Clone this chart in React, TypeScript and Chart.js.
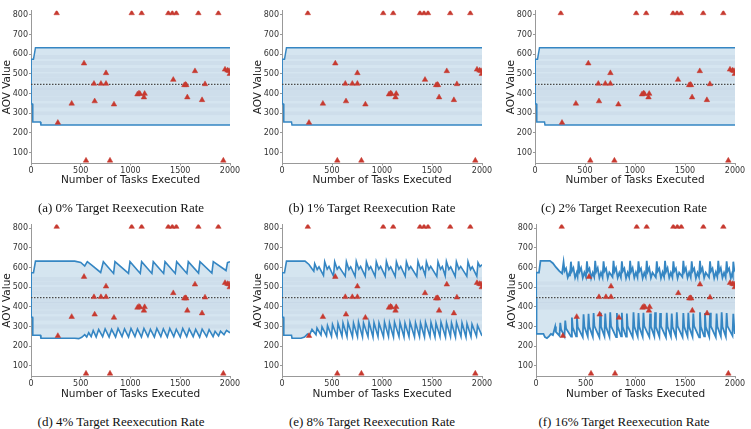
import React, { useEffect, useRef } from "react";
import { Chart, registerables } from "chart.js";
Chart.register(...registerables);

type Pt = [number, number];

const xTickValues = [0, 500, 1000, 1500, 2000];
const yTickValues = [100, 200, 300, 400, 500, 600, 700, 800];
const meanAov = 447;

const outlierTasks = [
  258, 1012, 1112, 1380, 1420, 1460, 1682, 1883,
  553, 794, 1933,
  270, 409, 533, 633, 640, 703, 754, 754, 834, 1070, 1085, 1095, 1135, 1142,
  1430, 1541, 1553, 1560, 1571, 1648, 1719, 1749, 1950, 1975, 1990, 1998,
];
const outlierValues = [
  808, 808, 808, 808, 808, 808, 808, 808,
  60, 60, 60,
  252, 349, 553, 450, 361, 450, 504, 450, 345, 396, 401, 398, 381, 399,
  470, 443, 445, 443, 381, 514, 367, 448, 522, 517, 515, 500,
];

const captions = [
  "(a) 0% Target Reexecution Rate",
  "(b) 1% Target Reexecution Rate",
  "(c) 2% Target Reexecution Rate",
  "(d) 4% Target Reexecution Rate",
  "(e) 8% Target Reexecution Rate",
  "(f) 16% Target Reexecution Rate",
];

const upperFlat: Pt[] = [[0, 450], [2, 574], [25, 574], [45, 633], [2000, 633]];
const lowerFlat: Pt[] = [[0, 450], [2, 347], [15, 347], [18, 255], [95, 255], [100, 240], [2000, 240]];

const upper4: Pt[] = [
  [0, 450], [2, 574], [25, 574], [45, 633], [440, 633], [500, 626], [540, 608], [566, 630], [610, 612],
  [700, 575], [727, 630], [830, 570], [844, 630], [980, 570], [995, 630], [1098, 570], [1112, 630],
  [1215, 570], [1229, 630], [1333, 570], [1347, 630], [1450, 570], [1464, 630], [1567, 570], [1581, 630],
  [1684, 572], [1698, 630], [1818, 572], [1832, 630], [1960, 585], [1975, 625], [2000, 630],
];
const lower4: Pt[] = [
  [0, 450], [2, 347], [15, 347], [18, 255], [95, 255], [100, 240], [440, 240], [480, 238], [510, 245],
  [540, 258], [560, 246], [580, 268], [605, 248], [625, 280], [655, 246], [680, 285], [720, 248],
  [745, 288], [785, 246], [810, 285], [850, 246], [875, 290], [915, 248], [940, 288], [980, 246],
  [1005, 290], [1045, 248], [1070, 288], [1110, 246], [1135, 290], [1175, 248], [1200, 286], [1240, 246],
  [1265, 290], [1305, 248], [1330, 288], [1370, 246], [1395, 290], [1435, 248], [1460, 286], [1500, 246],
  [1525, 290], [1565, 248], [1590, 288], [1630, 248], [1655, 285], [1695, 246], [1720, 286], [1765, 248],
  [1790, 284], [1830, 248], [1850, 275], [1885, 252], [1905, 276], [1940, 258], [1965, 280], [2000, 268],
];

const upper8: Pt[] = [
  [0, 450], [2, 574], [25, 574], [45, 633], [230, 633], [270, 616], [300, 594], [318, 582],
  [327, 620], [352, 590], [370, 604], [415, 560],
  [427, 630], [452, 592], [470, 606], [515, 556],
  [527, 630], [552, 592], [570, 605], [632, 556],
  [644, 630], [669, 590], [687, 604], [731, 555],
  [743, 632], [768, 592], [786, 606], [832, 556],
  [844, 630], [869, 591], [887, 605], [931, 555],
  [943, 630], [968, 592], [986, 606], [1032, 556],
  [1044, 632], [1069, 590], [1087, 604], [1132, 555],
  [1144, 630], [1169, 592], [1187, 606], [1232, 556],
  [1244, 630], [1269, 591], [1287, 605], [1348, 555],
  [1360, 632], [1385, 592], [1403, 604], [1432, 560],
  [1444, 630], [1469, 590], [1487, 606], [1548, 555],
  [1560, 630], [1585, 592], [1603, 605], [1632, 558],
  [1644, 632], [1669, 591], [1687, 604], [1732, 555],
  [1744, 630], [1769, 592], [1787, 606], [1848, 556],
  [1860, 630], [1885, 590], [1903, 604], [1948, 556],
  [1960, 625], [1980, 605], [2000, 615],
];
const lower8: Pt[] = [
  [0, 450], [2, 347], [15, 347], [18, 255], [95, 255], [100, 240], [190, 240], [225, 246], [255, 262], [275, 256],
  [300, 285], [340, 258], [350, 292], [390, 256], [400, 298], [445, 252], [455, 305], [495, 250], [505, 310],
  [550, 248], [560, 315], [600, 250], [610, 318], [650, 248], [660, 320], [705, 246], [715, 318], [755, 248],
  [765, 322], [805, 246], [815, 318], [860, 248], [870, 322], [910, 246], [920, 320], [960, 248], [970, 318],
  [1015, 246], [1025, 322], [1065, 248], [1075, 318], [1115, 246], [1125, 322], [1170, 248], [1180, 320],
  [1220, 246], [1230, 318], [1270, 248], [1280, 322], [1325, 246], [1335, 320], [1375, 248], [1385, 318],
  [1425, 246], [1435, 322], [1480, 248], [1490, 320], [1530, 246], [1540, 318], [1580, 248], [1590, 322],
  [1635, 246], [1645, 320], [1685, 248], [1695, 318], [1735, 246], [1745, 320], [1790, 248], [1800, 318],
  [1840, 246], [1850, 315], [1890, 248], [1900, 312], [1945, 250], [1955, 305], [1995, 258], [2000, 262],
];

const upper16: Pt[] = [
  [0, 450], [2, 574], [30, 574], [45, 634], [140, 634], [170, 622], [200, 602], [235, 582], [262, 570],
  [277, 628], [287, 582], [302, 596], [319, 550], [335, 572], [341, 556],
  [351, 630], [361, 582], [376, 598], [393, 548], [409, 574], [418, 554],
  [428, 632], [438, 580], [453, 598], [470, 548], [486, 575], [502, 552],
  [512, 632], [522, 582], [537, 596], [554, 546], [570, 574], [585, 552],
  [595, 634], [605, 580], [620, 598], [637, 548], [653, 575], [669, 550],
  [679, 632], [689, 582], [704, 596], [721, 546], [737, 576], [769, 552],
  [779, 634], [789, 580], [804, 598], [821, 548], [837, 574], [853, 550],
  [863, 632], [873, 582], [888, 596], [905, 546], [921, 575], [936, 552],
  [946, 634], [956, 580], [971, 598], [988, 548], [1004, 576], [1020, 550],
  [1030, 632], [1040, 582], [1055, 596], [1072, 546], [1088, 574], [1103, 552],
  [1113, 634], [1123, 580], [1138, 598], [1155, 548], [1171, 575], [1204, 550],
  [1214, 632], [1224, 582], [1239, 596], [1256, 546], [1272, 576], [1287, 552],
  [1297, 634], [1307, 580], [1322, 598], [1339, 548], [1355, 574], [1371, 550],
  [1381, 632], [1391, 582], [1406, 596], [1423, 546], [1439, 575], [1471, 552],
  [1481, 634], [1491, 580], [1506, 598], [1523, 548], [1539, 576], [1555, 550],
  [1565, 632], [1575, 582], [1590, 596], [1607, 546], [1623, 574], [1638, 552],
  [1648, 634], [1658, 580], [1673, 598], [1690, 548], [1706, 575], [1739, 550],
  [1749, 632], [1759, 582], [1774, 596], [1791, 546], [1807, 576], [1822, 552],
  [1832, 634], [1842, 580], [1857, 598], [1874, 548], [1890, 574], [1906, 550],
  [1916, 632], [1926, 582], [1941, 596], [1958, 546], [1970, 568], [1978, 556],
  [1983, 630], [1993, 585], [2000, 590],
];
const lower16: Pt[] = [
  [0, 450], [2, 352], [8, 262], [75, 262], [90, 246], [110, 240], [130, 250], [150, 262], [170, 256],
  [193, 300], [200, 272], [236, 252],
  [244, 318], [252, 285], [286, 250],
  [294, 330], [302, 290], [353, 248],
  [361, 345], [369, 295], [403, 250],
  [411, 352], [419, 298], [470, 246],
  [478, 362], [486, 300], [520, 250],
  [528, 365], [536, 298], [571, 248],
  [579, 368], [587, 302], [637, 245],
  [645, 370], [653, 300], [688, 250],
  [696, 366], [704, 298], [738, 248],
  [746, 372], [754, 302], [805, 246],
  [813, 368], [821, 300], [855, 250],
  [863, 370], [871, 298], [905, 248],
  [913, 366], [921, 302], [972, 245],
  [980, 372], [988, 300], [1022, 250],
  [1030, 368], [1038, 298], [1072, 248],
  [1080, 370], [1088, 302], [1139, 246],
  [1147, 366], [1155, 300], [1189, 250],
  [1197, 372], [1205, 298], [1240, 248],
  [1248, 368], [1256, 302], [1306, 245],
  [1314, 370], [1322, 300], [1356, 250],
  [1364, 366], [1372, 298], [1407, 248],
  [1415, 372], [1423, 302], [1473, 246],
  [1481, 368], [1489, 300], [1523, 250],
  [1531, 370], [1539, 298], [1573, 248],
  [1581, 366], [1589, 302], [1640, 245],
  [1648, 372], [1656, 300], [1690, 250],
  [1698, 368], [1706, 298], [1741, 248],
  [1749, 370], [1757, 302], [1807, 246],
  [1815, 366], [1823, 300], [1858, 250],
  [1866, 372], [1874, 298], [1908, 248],
  [1916, 368], [1924, 302], [1975, 252],
  [1983, 365], [1991, 300], [2000, 262],
];

const textureFull = [300, 340, 372, 395, 415, 430, 470, 492, 520, 555, 585];
const textureMid = [300, 340, 372, 395, 415, 430, 470, 492, 520, 542];
const textureInner = [395, 415, 430, 470, 492, 520];

const upperSets = [upperFlat, upperFlat, upperFlat, upper4, upper8, upper16];
const lowerSets = [lowerFlat, lowerFlat, lowerFlat, lower4, lower8, lower16];
const textureSets = [textureFull, textureFull, textureFull, textureMid, textureMid, textureInner];

const panelLayout = [
  { x0: 31, span: 199, top: 0, padTop: 10.8, xAxisH: 28.5, capX: 121, capY: 208, lw: 1.5 },
  { x0: 282, span: 200, top: 0, padTop: 10.8, xAxisH: 28.5, capX: 372, capY: 208, lw: 1.5 },
  { x0: 535, span: 200, top: 0, padTop: 10.8, xAxisH: 28.5, capX: 624, capY: 208, lw: 1.5 },
  { x0: 31, span: 199, top: 214, padTop: 10.4, xAxisH: 29.5, capX: 121, capY: 422, lw: 1.6 },
  { x0: 282, span: 200, top: 214, padTop: 10.4, xAxisH: 29.5, capX: 372, capY: 422, lw: 1.6 },
  { x0: 536, span: 199, top: 214, padTop: 10.4, xAxisH: 29.5, capX: 624, capY: 422, lw: 1.8 },
];

const SANS = "'DejaVu Sans', sans-serif";
const CANVAS_H = 192;
const Y_AXIS_W = 31;
const PAD_RIGHT = 16;

function Panel({ idx }: { idx: number }) {
  const ref = useRef<HTMLCanvasElement>(null);
  const L = panelLayout[idx];
  const W = Y_AXIS_W + L.span + PAD_RIGHT;

  useEffect(() => {
    const toXY = (pts: Pt[]) => pts.map(([x, y]) => ({ x, y }));
    const blue = "#3586c3";
    const datasets: any[] = [
      {
        label: "outliers",
        data: outlierTasks.map((t, i) => ({ x: t, y: outlierValues[i] })),
        showLine: false,
        pointStyle: "triangle",
        pointRadius: 3.2,
        pointBackgroundColor: "#c73a30",
        pointBorderColor: "#c73a30",
        pointBorderWidth: 0.5,
        fill: false,
      },
      {
        label: "mean",
        data: [{ x: 0, y: meanAov }, { x: 2000, y: meanAov }],
        borderColor: "#4a4a4a",
        borderWidth: 1.3,
        borderDash: [1.5, 1.5],
        pointRadius: 0,
        fill: false,
      },
      {
        label: "upper",
        data: toXY(upperSets[idx]),
        borderColor: blue,
        borderWidth: L.lw,
        pointRadius: 0,
        fill: "+1",
        backgroundColor: "rgba(178,208,228,0.55)",
      },
      {
        label: "lower",
        data: toXY(lowerSets[idx]),
        borderColor: blue,
        borderWidth: L.lw,
        pointRadius: 0,
        fill: false,
      },
      ...textureSets[idx].map((v) => ({
        label: "texture",
        data: [{ x: 0, y: v }, { x: 2000, y: v }],
        borderColor: "rgba(120,145,165,0.07)",
        borderWidth: 4,
        pointRadius: 0,
        fill: false,
      })),
    ];

    const chart = new Chart(ref.current as HTMLCanvasElement, {
      type: "line",
      data: { datasets },
      options: {
        animation: false,
        responsive: false,
        maintainAspectRatio: false,
        events: [],
        layout: { padding: { top: L.padTop, right: PAD_RIGHT, left: 0, bottom: 0 } },
        plugins: {
          legend: { display: false },
          tooltip: { enabled: false },
          filler: { propagate: false, drawTime: "beforeDatasetsDraw" } as any,
        },
        scales: {
          x: {
            type: "linear",
            min: 0,
            max: 2000,
            afterBuildTicks: (axis: any) => {
              axis.ticks = xTickValues.map((v) => ({ value: v }));
            },
            afterFit: (axis: any) => {
              axis.height = L.xAxisH;
            },
            grid: { drawOnChartArea: false, tickLength: 2, color: "#999" },
            border: { color: "#999", width: 1 },
            ticks: {
              font: { family: SANS, size: 8 },
              color: "#333",
              padding: 1,
              maxRotation: 0,
              autoSkip: false,
              callback: (v: any) => String(v),
            },
            title: {
              display: true,
              text: "Number of Tasks Executed",
              font: { family: SANS, size: 10.5 },
              color: "#222",
              padding: { top: 0, bottom: 5.7 },
            },
          },
          y: {
            type: "linear",
            min: 45,
            max: 820,
            afterBuildTicks: (axis: any) => {
              axis.ticks = yTickValues.map((v) => ({ value: v }));
            },
            afterFit: (axis: any) => {
              axis.width = Y_AXIS_W;
            },
            grid: { drawOnChartArea: false, tickLength: 2, color: "#999" },
            border: { color: "#999", width: 1 },
            ticks: {
              font: { family: SANS, size: 8 },
              color: "#333",
              padding: 1,
              autoSkip: false,
              callback: (v: any) => String(v),
            },
            title: {
              display: true,
              text: "AOV Value",
              font: { family: SANS, size: 10.5 },
              color: "#222",
              padding: { top: 1, bottom: 0 },
            },
          },
        },
      } as any,
    });
    return () => chart.destroy();
  }, [idx]);

  return (
    <canvas
      ref={ref}
      width={W}
      height={CANVAS_H}
      style={{ position: "absolute", left: L.x0 - Y_AXIS_W, top: L.top, width: W, height: CANVAS_H }}
    />
  );
}

export default function App() {
  return (
    <div style={{ position: "absolute", left: 0, top: 0, width: 751, height: 429, background: "#fff", overflow: "hidden" }}>
      {panelLayout.map((_, i) => (
        <Panel key={i} idx={i} />
      ))}
      {panelLayout.map((L, i) => (
        <div
          key={"c" + i}
          style={{
            position: "absolute",
            left: L.capX - 125,
            top: L.capY - 8,
            width: 250,
            textAlign: "center",
            fontFamily: "'Liberation Serif', 'Times New Roman', serif",
            fontSize: 13,
            lineHeight: "16px",
            color: "#111",
            whiteSpace: "nowrap",
          }}
        >
          {captions[i]}
        </div>
      ))}
    </div>
  );
}
